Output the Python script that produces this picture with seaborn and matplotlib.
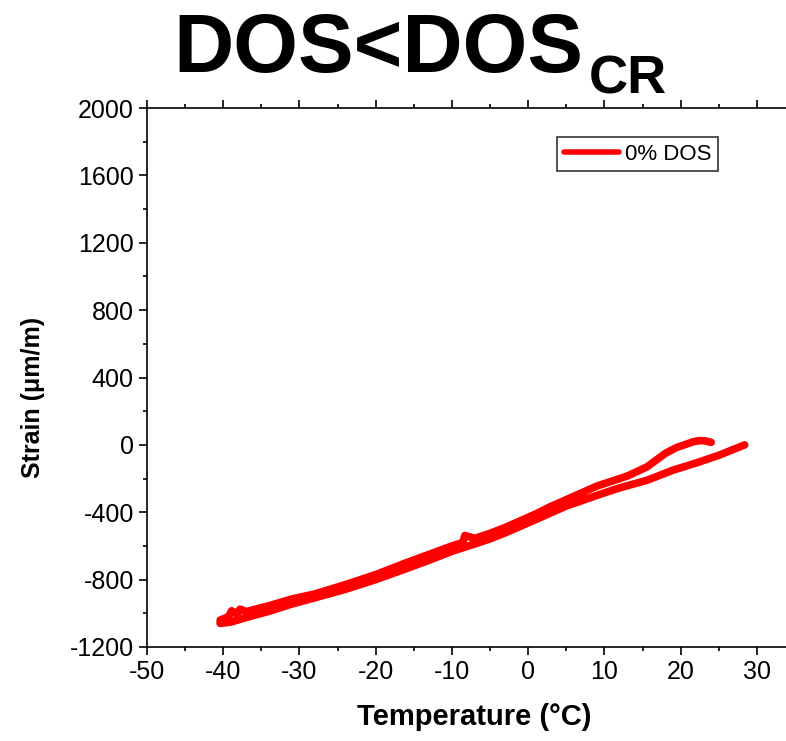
import pandas as pd
import numpy as np
import seaborn as sns
import matplotlib.pyplot as plt
from matplotlib.ticker import MultipleLocator

# cooling branch (hot end -> cold end)
cool_temp = [24.0, 23.2, 22.4, 21.6, 20.8, 19.5, 18.0, 16.8, 15.6, 14.2, 13.0, 11.0,
             9.0, 7.0, 5.0, 3.0, 1.0, -1.0, -3.0, -5.0, -7.0, -8.3, -8.6, -10.0,
             -13.0, -16.0, -20.0, -24.0, -28.0, -31.0, -34.0, -37.0, -37.8, -38.2,
             -38.9, -39.3, -40.4]
cool_strain = [15, 24, 25, 18, 5, -15, -50, -90, -130, -160, -185, -215,
               -245, -285, -325, -365, -410, -450, -490, -525, -555, -538, -580, -600,
               -650, -700, -770, -830, -885, -915, -955, -990, -975, -1005,
               -985, -1020, -1040]

# heating branch (cold end -> hot end)
heat_temp = [-40.4, -39.0, -37.0, -34.0, -31.0, -28.0, -24.0, -20.0, -16.0, -13.0,
             -10.0, -7.0, -5.0, -3.0, -1.0, 1.0, 3.0, 5.0, 7.0, 9.0, 12.0, 15.6,
             19.0, 22.0, 25.0, 28.4]
heat_strain = [-1060, -1052, -1025, -988, -945, -908, -858, -800, -735, -685,
               -632, -588, -558, -522, -483, -443, -403, -363, -332, -300, -255, -210,
               -150, -108, -62, 0]

data = pd.DataFrame({
    "temp": cool_temp + heat_temp,
    "strain": cool_strain + heat_strain,
})

sns.set_style("ticks")
plt.rcParams["font.family"] = ["Liberation Sans", "DejaVu Sans"]
plt.rcParams["axes.unicode_minus"] = False
plt.rcParams["text.color"] = "black"
plt.rcParams["axes.labelcolor"] = "black"

fig = plt.figure(figsize=(7.86, 7.41), dpi=100)
ax = fig.add_axes([147 / 786, 94 / 741, 648 / 786, 539 / 741])

sns.lineplot(data=data, x="temp", y="strain", sort=False, estimator=None,
             color="#ff0000", linewidth=5.5, label="0% DOS", ax=ax)

ax.set_xlim(-50, 35)
ax.set_ylim(-1200, 2000)
ax.xaxis.set_major_locator(MultipleLocator(10))
ax.xaxis.set_minor_locator(MultipleLocator(5))
ax.yaxis.set_major_locator(MultipleLocator(400))
ax.yaxis.set_minor_locator(MultipleLocator(200))
ax.tick_params(which="both", direction="out", top=True, width=1.2, colors="black",
               labelsize=18)
ax.tick_params(which="major", length=6)
ax.tick_params(which="minor", length=3)
for side in ["left", "bottom", "top"]:
    ax.spines[side].set_linewidth(1.2)
    ax.spines[side].set_color("black")
ax.spines["right"].set_visible(False)

ax.set_xlabel("Temperature (°C)", fontsize=21, fontweight="bold")
ax.set_ylabel("Strain (μm/m)", fontsize=18, fontweight="bold")
ax.xaxis.set_label_coords((474 - 147) / 648, -(703 - 647) / 539)
ax.yaxis.set_label_coords((45 - 147) / 648, (647 - 397) / 539)

leg = ax.legend(loc="upper left", bbox_to_anchor=(557 / 786, 1 - 137 / 741),
                bbox_transform=fig.transFigure, borderaxespad=0, fontsize=16,
                frameon=True, fancybox=False, edgecolor="black", handlelength=2.5,
                handletextpad=0.25, borderpad=0.3)
leg.get_frame().set_linewidth(1.2)
leg.get_lines()[0].set_linewidth(4)

fig.text(173 / 786, 1 - 72 / 741, "DOS<DOS", fontsize=60, fontweight="bold",
         ha="left", va="baseline")
fig.text(589 / 786, 1 - 93 / 741, "CR", fontsize=39, fontweight="bold",
         ha="left", va="baseline")

plt.savefig("out.png", dpi=100)
